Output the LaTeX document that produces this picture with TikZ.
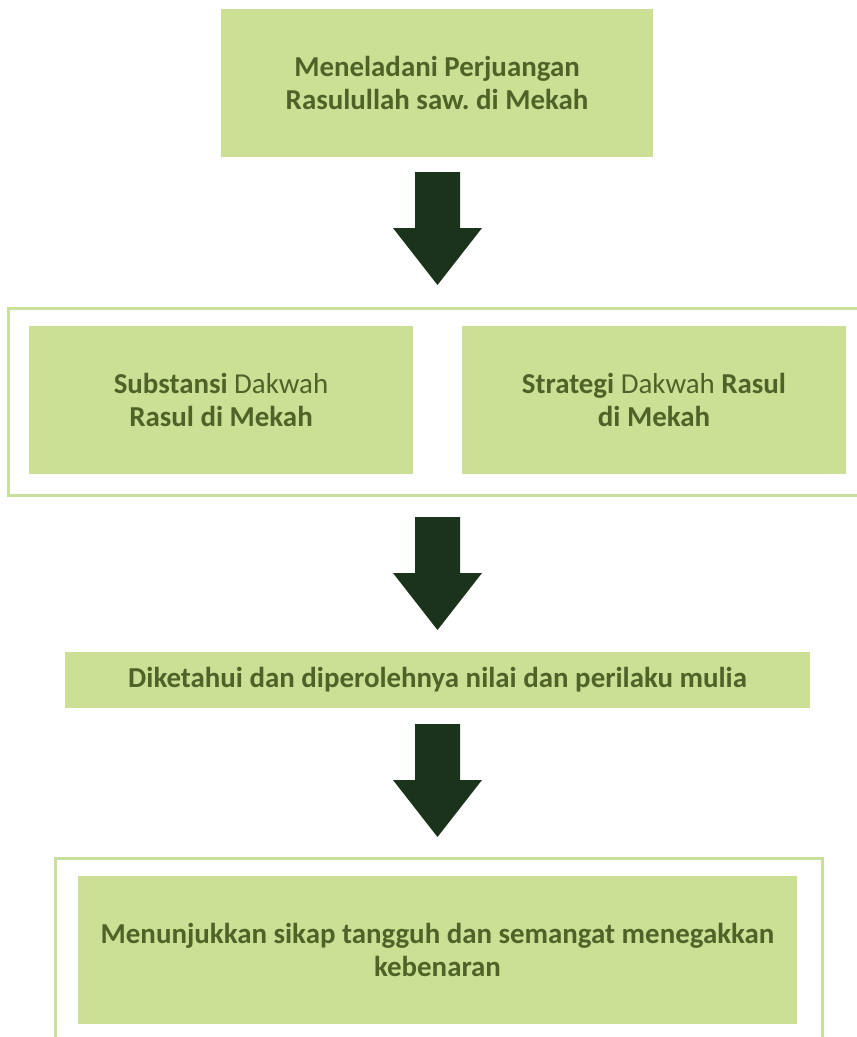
\documentclass[tikz,border=0pt]{standalone}
\usepackage{fontspec}
\setmainfont{Carlito}
\usetikzlibrary{positioning}

\definecolor{boxgreen}{HTML}{CBDF95}
\definecolor{framegreen}{HTML}{C8DF9E}
\definecolor{textgreen}{HTML}{4F6228}
\definecolor{arrowgreen}{HTML}{1B331B}

\begin{document}
\begin{tikzpicture}[x=1bp,y=-1bp,
  box/.style={fill=boxgreen, text=textgreen, align=center, inner sep=0pt,
    font=\fontsize{29}{32.5}\selectfont\bfseries},
  frameline/.style={draw=framegreen, line width=3bp}]

  \useasboundingbox (0,0) rectangle (857,1037);

  % Top box
  \node[box, minimum width=432bp, minimum height=148bp] (judul) at (437,83)
    {Meneladani Perjuangan\\Rasulullah saw.\ di Mekah};

  % Frame round the two middle boxes (open on the right)
  \draw[frameline] (857,308) -- (8,308) -- (8,495) -- (857,495);
  \node[box, minimum width=384bp, minimum height=148bp] (substansi) at (221,400)
    {Substansi {\mdseries Dakwah}\\Rasul di Mekah};
  \node[box, minimum width=384bp, minimum height=148bp] (strategi) at (654,400)
    {Strategi {\mdseries Dakwah} Rasul\\di Mekah};

  % Result strip
  \node[box, minimum width=745bp, minimum height=56bp] (nilai) at (437.5,680)
    {Diketahui dan diperolehnya nilai dan perilaku mulia};

  % Frame round the last box (open at the bottom)
  \draw[frameline] (55,1037) -- (55,858) -- (822,858) -- (822,1037);
  \node[box, minimum width=719bp, minimum height=148bp] (sikap) at (437.5,950)
    {Menunjukkan sikap tangguh dan semangat menegakkan\\kebenaran};

  % Block arrows
  \foreach \ytop in {172,517,724}
  {
    \fill[arrowgreen] (415,\ytop) -- (460,\ytop) -- (460,\ytop+56)
      -- (482,\ytop+56) -- (437.5,\ytop+113) -- (393,\ytop+56)
      -- (415,\ytop+56) -- cycle;
  }

\end{tikzpicture}
\end{document}
